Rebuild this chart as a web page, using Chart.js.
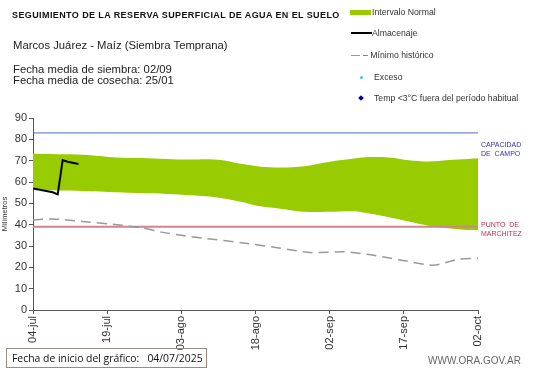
<!DOCTYPE html>
<html>
<head>
<meta charset="utf-8">
<script src="https://cdn.jsdelivr.net/npm/chart.js@4.4.1/dist/chart.umd.min.js"></script>
<style>
  body { margin: 0; background: #fff; font-family: "Liberation Sans", Arial, sans-serif; }
  #wrap { position: relative; width: 541px; height: 368px; overflow: hidden; }
  #chart { position: absolute; left: 0; top: 0; }
  .txt { position: absolute; white-space: nowrap; color: #222; }
  .leg { position: absolute; white-space: nowrap; font-size: 8.7px; line-height: 10px; color: #333; }
</style>
</head>
<body>
<div id="wrap">
  <canvas id="chart" width="541" height="368"></canvas>

  <div class="txt" style="left:12px; top:10px; font-size:9px; letter-spacing:0.4px; line-height:10px; font-weight:bold; color:#111;">SEGUIMIENTO DE LA RESERVA SUPERFICIAL DE AGUA EN EL SUELO</div>
  <div class="txt" style="left:13px; top:38px; font-size:11.3px; line-height:14px;">Marcos Juárez - Maíz (Siembra Temprana)</div>
  <div class="txt" style="left:13px; top:64px; font-size:11.3px; line-height:11px;">Fecha media de siembra: 02/09<br>Fecha media de cosecha: 25/01</div>

  <div style="position:absolute; left:350px; top:10px; width:21px; height:5px; background:#99cc00;"></div>
  <div class="leg" style="left:372px; top:7px;">Intervalo Normal</div>
  <div style="position:absolute; left:351px; top:32px; width:21px; height:2px; background:#000;"></div>
  <div class="leg" style="left:372px; top:28px;">Almacenaje</div>
  <div style="position:absolute; left:351px; top:55px; width:9px; height:1px; background:#999;"></div>
  <div class="leg" style="left:363px; top:50px;">– Mínimo histórico</div>
  <div style="position:absolute; left:360px; top:76px; width:3px; height:3px; border-radius:2px; background:#33cccc;"></div>
  <div class="leg" style="left:374px; top:72px;">Exceso</div>
  <div style="position:absolute; left:359px; top:96px; width:4px; height:4px; background:#000099; transform:rotate(45deg);"></div>
  <div class="leg" style="left:374px; top:93px;">Temp &lt;3°C fuera del período habitual</div>

  <div class="txt" style="left:481px; top:140px; font-size:7px; line-height:9px; color:#3333aa;">CAPACIDAD<br>DE&nbsp; CAMPO</div>
  <div class="txt" style="left:481px; top:220px; font-size:7px; line-height:9px; color:#c0304a;">PUNTO&nbsp; DE<br>MARCHITEZ</div>

  <div style="position:absolute; left:6px; top:348px; width:201px; height:20px; border:1px solid #9a8a88; box-sizing:border-box;"></div>
  <div class="txt" style="left:12px; top:352px; font-size:10.4px; font-family:'Open Sans', sans-serif; line-height:13px; color:#111;">Fecha de inicio del gráfico:&nbsp;&nbsp; 04/07/2025</div>
  <div class="txt" style="left:428px; top:355px; font-size:10px; color:#666;">WWW.ORA.GOV.AR</div>
</div>

<script>
// days since 04-jul
const xTickLabels = ['04-jul', '19-jul', '03-ago', '18-ago', '02-sep', '17-sep', '02-oct'];

const bandDays = [0, 5, 10, 17, 22, 27, 32, 35, 38, 42, 46, 50, 55, 60, 65, 68, 72, 76, 80, 84, 88, 90];
const bandUpper = [73.2, 73, 72.8, 71.5, 71.2, 70.8, 70.5, 70.7, 70.3, 68.5, 67.2, 66.8, 67.4, 69.5, 71, 71.7, 71.5, 70.2, 69.6, 70.3, 70.8, 71.1];
const bandLower = [56.2, 56, 55.8, 55.2, 54.8, 54.4, 53.8, 53.3, 52.5, 50.8, 48.6, 47.5, 46, 46, 46.3, 45.2, 43.5, 41.5, 39.5, 38.3, 37.5, 37.5];

const storageDays = [0, 4, 5, 6, 7, 9.2];
const storageValues = [57, 55.2, 54.2, 70.3, 69.5, 68.4];

const minDays = [0, 4, 10, 17, 22, 26, 30, 35, 43, 50, 56, 63, 68, 74, 81, 86, 90];
const minValues = [42.2, 42.7, 41.5, 40, 38.5, 36.5, 35, 33.5, 31.3, 29, 26.9, 27.3, 26, 23.6, 21, 23.8, 24.2];

const fieldCapacity = 83;
const wiltingPoint = 39;

function toPoints(xs, ys) {
    return xs.map((x, i) => ({ x: x, y: ys[i] }));
}

const ctx = document.getElementById('chart').getContext('2d');

// lower "order" is drawn on top
new Chart(ctx, {
    type: 'line',
    data: {
        datasets: [
            {
                label: 'Capacidad de campo',
                data: toPoints([0, 90], [fieldCapacity, fieldCapacity]),
                borderColor: '#5566bb',
                borderWidth: 1,
                pointRadius: 0,
                fill: false,
                order: 5
            },
            {
                label: 'Intervalo superior',
                data: toPoints(bandDays, bandUpper),
                borderColor: '#99cc00',
                borderWidth: 0,
                backgroundColor: '#99cc00',
                pointRadius: 0,
                tension: 0.3,
                fill: '+1',
                order: 4
            },
            {
                label: 'Intervalo inferior',
                data: toPoints(bandDays, bandLower),
                borderColor: '#99cc00',
                borderWidth: 0,
                pointRadius: 0,
                tension: 0.3,
                fill: false,
                order: 4
            },
            {
                label: 'Punto de marchitez',
                data: toPoints([0, 90], [wiltingPoint, wiltingPoint]),
                borderColor: '#cc8888',
                borderWidth: 2,
                pointRadius: 0,
                fill: false,
                order: 3
            },
            {
                label: 'Mínimo histórico',
                data: toPoints(minDays, minValues),
                borderColor: '#999999',
                borderWidth: 1.5,
                borderDash: [10, 6],
                pointRadius: 0,
                tension: 0.2,
                fill: false,
                order: 2
            },
            {
                label: 'Almacenaje',
                data: toPoints(storageDays, storageValues),
                borderColor: '#000000',
                borderWidth: 2,
                pointRadius: 0,
                fill: false,
                order: 1
            }
        ]
    },
    options: {
        responsive: false,
        animation: false,
        layout: { padding: { left: 0, right: 63, top: 118, bottom: 0 } },
        plugins: {
            legend: { display: false },
            tooltip: { enabled: false }
        },
        scales: {
            x: {
                type: 'linear',
                min: 0,
                max: 90,
                afterFit: scale => { scale.height = 58; },
                afterBuildTicks: scale => {
                    scale.ticks = xTickLabels.map((t, i) => ({ value: i * 15 }));
                },
                ticks: {
                    autoSkip: false,
                    minRotation: 90,
                    maxRotation: 90,
                    color: '#333',
                    font: { family: 'Liberation Sans', size: 11 },
                    padding: 2,
                    callback: (v, i) => xTickLabels[i]
                },
                grid: { drawOnChartArea: false, tickLength: 4, color: '#555' },
                border: { color: '#555', width: 1 }
            },
            y: {
                min: 0,
                max: 90,
                afterFit: scale => { scale.width = 33; },
                ticks: {
                    stepSize: 10,
                    color: '#333',
                    font: { family: 'Liberation Sans', size: 11 },
                    padding: 2
                },
                title: {
                    display: true,
                    text: 'Milímetros',
                    color: '#333',
                    font: { family: 'Liberation Sans', size: 7.5 },
                    padding: { top: 0, bottom: 0 }
                },
                grid: { drawOnChartArea: false, tickLength: 4, color: '#555' },
                border: { color: '#555', width: 1 }
            }
        }
    }
});
</script>
</body>
</html>
